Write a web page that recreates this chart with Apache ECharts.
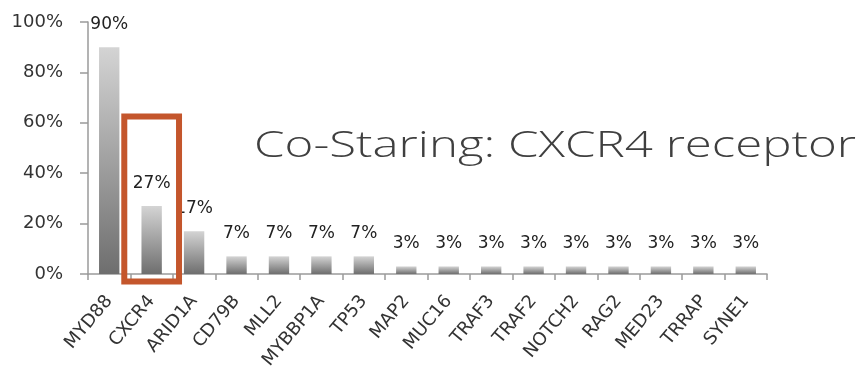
<!DOCTYPE html>
<html>
<head>
<meta charset="utf-8">
<script src="https://cdn.jsdelivr.net/npm/echarts@6/dist/echarts.min.js"></script>
<style>
  html, body { margin: 0; padding: 0; background: #fff; }
  #chart { width: 858px; height: 378px; }
</style>
</head>
<body>
<div id="chart"></div>
<script>
// Mutation frequency per gene (percent of cases)
var genes = ['MYD88', 'CXCR4', 'ARID1A', 'CD79B', 'MLL2', 'MYBBP1A', 'TP53', 'MAP2',
             'MUC16', 'TRAF3', 'TRAF2', 'NOTCH2', 'RAG2', 'MED23', 'TRRAP', 'SYNE1'];
var frequency = [90, 27, 17, 7, 7, 7, 7, 3, 3, 3, 3, 3, 3, 3, 3, 3];
var yTicks = [0, 20, 40, 60, 80, 100];
var titleText = 'Co-Staring: CXCR4 receptor';
var highlightGene = 'CXCR4';
var highlightTop = 62.5;   // value level of the top of the highlight frame

var LABEL_FONT = '"DejaVu Sans", sans-serif';
var TITLE_FONT = '"Open Sans", "DejaVu Sans", sans-serif';
var chart = echarts.init(document.getElementById('chart'));

var barFill = new echarts.graphic.LinearGradient(0, 0, 0, 1, [
  { offset: 0, color: '#d4d4d4' },
  { offset: 1, color: '#6e6e6e' }
]);

function titleGraphic() {
  return {
    type: 'text',
    x: 254,
    y: 128,
    scaleX: 1.33,
    style: {
      text: titleText,
      fill: '#3f3f3f',
      font: '300 37px ' + TITLE_FONT
    }
  };
}

chart.setOption({
  animation: false,
  backgroundColor: '#fff',
  grid: { left: 88, right: 91, top: 22, bottom: 104, containLabel: false },
  xAxis: {
    type: 'category',
    data: genes,
    axisLine: { lineStyle: { color: '#9a9a9a', width: 1.5 } },
    axisTick: { show: true, length: 6, lineStyle: { color: '#9a9a9a', width: 1.5 } },
    axisLabel: {
      rotate: 50, color: '#333', fontFamily: LABEL_FONT, fontSize: 18,
      margin: 24, interval: 0
    }
  },
  yAxis: {
    type: 'value',
    min: yTicks[0],
    max: yTicks[yTicks.length - 1],
    interval: yTicks[1] - yTicks[0],
    splitLine: { show: false },
    axisLine: { show: true, lineStyle: { color: '#9a9a9a', width: 1.5 } },
    axisTick: { show: true, length: 8, lineStyle: { color: '#9a9a9a', width: 1.5 } },
    axisLabel: { formatter: '{value}%', color: '#333', fontFamily: LABEL_FONT, fontSize: 18, margin: 25 }
  },
  series: [{
    type: 'bar',
    data: frequency,
    barWidth: '48%',
    itemStyle: { color: barFill },
    label: {
      show: true,
      position: 'top',
      distance: 14,
      formatter: '{c}%',
      color: '#222',
      fontFamily: LABEL_FONT,
      fontSize: 17
    },
    z: 2
  }],
  graphic: [titleGraphic()]
});

// Frame around the highlighted gene, positioned from the axes
var idx = genes.indexOf(highlightGene);
var center = chart.convertToPixel({ xAxisIndex: 0 }, genes[idx]);
var next = chart.convertToPixel({ xAxisIndex: 0 }, genes[idx + 1]);
var step = next - center;
var topY = chart.convertToPixel({ yAxisIndex: 0 }, highlightTop);
var baseY = chart.convertToPixel({ yAxisIndex: 0 }, 0);
var halfW = step * 0.645;
chart.setOption({
  graphic: [titleGraphic(), {
    type: 'rect',
    shape: { x: center - halfW, y: topY, width: halfW * 2, height: baseY + 7.5 - topY },
    style: { fill: 'none', stroke: '#c4562c', lineWidth: 6 },
    z: 100
  }]
}, { replaceMerge: ['graphic'] });
</script>
</body>
</html>
